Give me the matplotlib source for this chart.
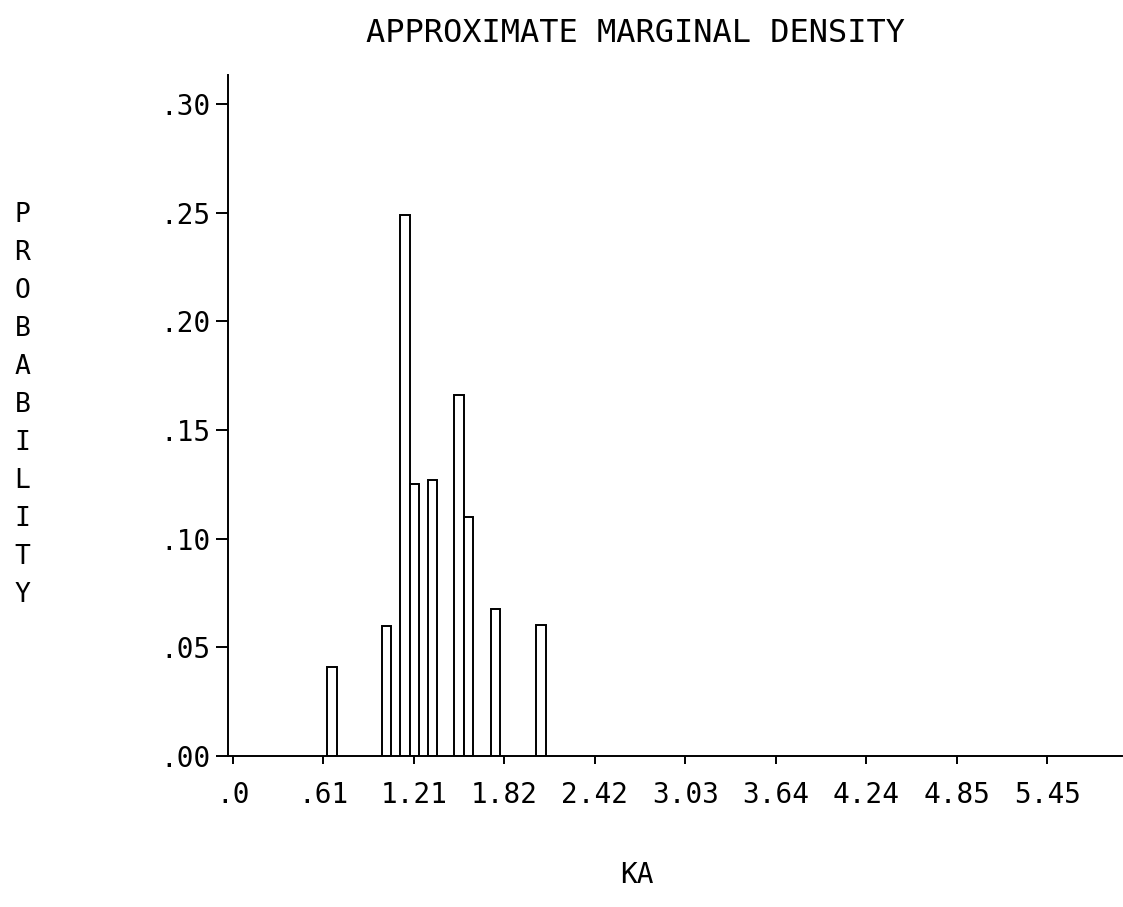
import matplotlib
matplotlib.use("Agg")
import matplotlib.pyplot as plt

# KA values (bar centres) and their probabilities
ka_values = [0.664, 1.030, 1.152, 1.215, 1.338, 1.515, 1.576, 1.760, 2.064]
probabilities = [0.041, 0.0596, 0.249, 0.125, 0.127, 0.166, 0.110, 0.0677, 0.0604]

x_tick_values = [0.0, 0.606, 1.212, 1.818, 2.424, 3.030, 3.636, 4.242, 4.848, 5.454]
x_tick_labels = [".0", ".61", "1.21", "1.82", "2.42", "3.03", "3.64", "4.24", "4.85", "5.45"]
y_tick_values = [0.0, 0.05, 0.10, 0.15, 0.20, 0.25, 0.30]
y_tick_labels = [".00", ".05", ".10", ".15", ".20", ".25", ".30"]

title = "APPROXIMATE MARGINAL DENSITY"
x_label = "KA"
y_label = "PROBABILITY"

plt.rcParams["font.family"] = ["DejaVu Sans Mono", "DejaVu Sans"]

fig = plt.figure(figsize=(11.23, 9.07), dpi=100)
fig.patch.set_facecolor("white")
ax = fig.add_axes([0.2030, 0.1665, 0.7961, 0.7508])

ax.bar(ka_values, probabilities, width=0.063, color="white",
       edgecolor="black", linewidth=1.4, zorder=2)

ax.set_xlim(-0.0335, 5.955)
ax.set_ylim(0, 0.3133)

ax.set_xticks(x_tick_values)
ax.set_xticklabels(x_tick_labels)
ax.set_yticks(y_tick_values)
ax.set_yticklabels(y_tick_labels)

ax.tick_params(axis="x", direction="out", length=6, width=1.4, pad=12, labelsize=20)
ax.tick_params(axis="y", direction="out", length=8.5, width=1.4, pad=4, labelsize=20)

ax.spines["top"].set_visible(False)
ax.spines["right"].set_visible(False)
for side in ("left", "bottom"):
    ax.spines[side].set_linewidth(1.4)

# title and axis labels sit where the old plotter put them, not centred on the axes
fig.text(0.566, 0.963, title, ha="center", va="center", fontsize=23)
fig.text(0.567, 0.035, x_label, ha="center", va="center", fontsize=20)
fig.text(0.020, 0.553, "\n".join(y_label), ha="center", va="center",
         fontsize=19, linespacing=1.6)

fig.savefig("out.png", dpi=100, facecolor="white")
plt.close(fig)
